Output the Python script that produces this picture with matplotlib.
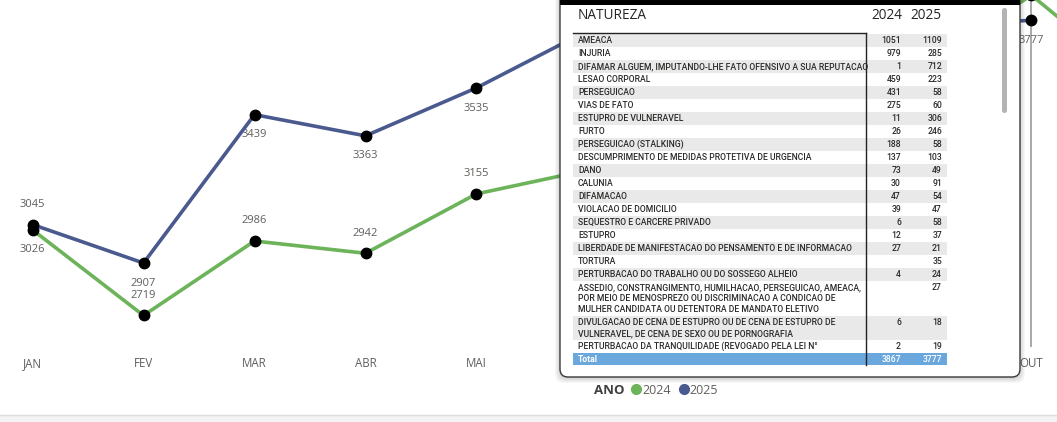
import matplotlib.pyplot as plt
from matplotlib.patches import Rectangle, FancyBboxPatch
from matplotlib.lines import Line2D

# dados do grafico (JUN-SET ficam atras do tooltip, estimados)
meses = ['JAN', 'FEV', 'MAR', 'ABR', 'MAI', 'JUN', 'JUL', 'AGO', 'SET', 'OUT', 'NOV']
v2024 = [3026, 2719, 2986, 2942, 3155, 3240, 3400, 3520, 3610, 3867, 3540]
v2025 = [3045, 2907, 3439, 3363, 3535, 3740, 3680, 3720, 3760, 3777]

# tabela do tooltip (mes OUT)
naturezas = [
    'AMEACA',
    'INJURIA',
    'DIFAMAR ALGUEM, IMPUTANDO-LHE FATO OFENSIVO A SUA REPUTACAO',
    'LESAO CORPORAL',
    'PERSEGUICAO',
    'VIAS DE FATO',
    'ESTUPRO DE VULNERAVEL',
    'FURTO',
    'PERSEGUICAO (STALKING)',
    'DESCUMPRIMENTO DE MEDIDAS PROTETIVA DE URGENCIA',
    'DANO',
    'CALUNIA',
    'DIFAMACAO',
    'VIOLACAO DE DOMICILIO',
    'SEQUESTRO E CARCERE PRIVADO',
    'ESTUPRO',
    'LIBERDADE DE MANIFESTACAO DO PENSAMENTO E DE INFORMACAO',
    'TORTURA',
    'PERTURBACAO DO TRABALHO OU DO SOSSEGO ALHEIO',
    'ASSEDIO, CONSTRANGIMENTO, HUMILHACAO, PERSEGUICAO, AMEACA,\nPOR MEIO DE MENOSPREZO OU DISCRIMINACAO A CONDICAO DE\nMULHER CANDIDATA OU DETENTORA DE MANDATO ELETIVO',
    'DIVULGACAO DE CENA DE ESTUPRO OU DE CENA DE ESTUPRO DE\nVULNERAVEL, DE CENA DE SEXO OU DE PORNOGRAFIA',
    'PERTURBACAO DA TRANQUILIDADE (REVOGADO PELA LEI N°',
]
n2024 = [1051, 979, 1, 459, 431, 275, 11, 26, 188, 137, 73, 30, 47, 39, 6, 12, 27, None, 4, None, 6, 2]
n2025 = [1109, 285, 712, 223, 58, 60, 306, 246, 58, 103, 49, 91, 54, 47, 58, 37, 21, 35, 24, 27, 18, 19]
totais = [3867, 3777]

verde = '#6cb35a'
azul = '#4a5a8e'
cinza = '#605e5c'
W, H = 1057, 422

fig = plt.figure(figsize=(W/100, H/100), dpi=100)

# grafico de linhas
ax = fig.add_axes([0, (H-347)/H, 1, 347/H])
ax.axvline(9, color='#a8a8a8', lw=1.4, zorder=1)
ax.plot(range(len(v2024)), v2024, color=verde, lw=2.6, marker='o', ms=7.5,
        mfc='black', mec='black', zorder=3)
ax.plot(range(len(v2025)), v2025, color=azul, lw=2.6, marker='o', ms=7.5,
        mfc='black', mec='black', zorder=4)

ax.set_xticks(range(len(meses)))
ax.set_xticklabels(meses, family='Open Sans')
ax.set_xlim(-0.293, 9.23)
ax.set_ylim(2606, 3850)

for i, v in enumerate(v2024):
    dy = -14.5 if i == 0 else 14.5
    ax.annotate(str(v), (i, v), xytext=(0, dy), textcoords='offset points',
                ha='center', va='center', fontsize=8, color=cinza, family='Open Sans')
for i, v in enumerate(v2025):
    dy = 14.5 if i == 0 else -14.5
    ax.annotate(str(v), (i, v), xytext=(0, dy), textcoords='offset points',
                ha='center', va='center', fontsize=8, color=cinza, family='Open Sans')

ax.tick_params(axis='x', length=0, pad=7, labelsize=8.3, labelcolor=cinza)
ax.set_yticks([])
for s in ax.spines.values():
    s.set_visible(False)

# legenda
fig.text(594/W, 1-390/H, 'ANO', fontweight='bold', fontsize=9.5, color='#404040',
         va='center', family='Open Sans')
hs = [Line2D([], [], ls='', marker='o', ms=7, color=verde),
      Line2D([], [], ls='', marker='o', ms=7, color=azul)]
fig.legend(hs, ['2024', '2025'], loc='center left', bbox_to_anchor=(630/W, 1-390/H),
           ncol=2, frameon=False, handletextpad=0.0, columnspacing=0.5, handlelength=1.0,
           borderpad=0, borderaxespad=0, prop={'family': 'Open Sans', 'size': 9},
           labelcolor=cinza)

# tooltip por cima
tt = fig.add_axes([0, 0, 1, 1], zorder=10)
tt.set_xlim(0, W)
tt.set_ylim(H, 0)
tt.axis('off')
tt.patch.set_alpha(0)

tt.add_patch(Rectangle((0, 415), W, 7, fc='#f3f3f3', ec='none'))
tt.plot([0, W], [415, 415], color='#dcdcdc', lw=1)

for k in range(6):
    tt.add_patch(FancyBboxPatch((560-k, -10), 460+2*k, 387+k+1,
                                boxstyle='round,pad=0,rounding_size=9',
                                fc='black', ec='none', alpha=0.03))
tt.add_patch(FancyBboxPatch((560, -10), 460, 387, boxstyle='round,pad=0,rounding_size=8',
                            fc='white', ec='#3a3a3a', lw=1))
tt.add_patch(Rectangle((560, -1), 460, 6, fc='black', ec='none'))
tt.add_patch(FancyBboxPatch((1002, 8), 5, 105, boxstyle='round,pad=0,rounding_size=2.5',
                            fc='#b3b3b3', ec='none'))

fh = {'family': 'Open Sans', 'size': 9.8, 'color': '#252423'}
tt.text(578, 15.5, 'NATUREZA', va='center', **fh)
tt.text(902, 15.5, '2024', va='center', ha='right', **fh)
tt.text(941, 15.5, '2025', va='center', ha='right', **fh)

ft = {'family': 'Roboto', 'size': 6.2, 'color': '#2b2a29', 'weight': 'medium'}
y = 33.5
for i, (nome, a, b) in enumerate(zip(naturezas, n2024, n2025)):
    linhas = nome.split('\n')
    h = 13 + 11*(len(linhas)-1)
    if i % 2 == 0:
        tt.add_patch(Rectangle((573, y), 374, h, fc='#e9e9e9', ec='none'))
    for k, ln in enumerate(linhas):
        tt.text(578, y+7+11*k, ln, va='center', **ft)
    if a is not None:
        tt.text(901, y+7, str(a), va='center', ha='right', **ft)
    if b is not None:
        tt.text(942, y+7, str(b), va='center', ha='right', **ft)
    y += h

tt.add_patch(Rectangle((573, y), 374, 12.5, fc='#6aa7dc', ec='none'))
ftot = dict(ft, color='white')
tt.text(578, y+6.5, 'Total', va='center', **dict(ftot, weight='bold'))
tt.text(901, y+6.5, str(totais[0]), va='center', ha='right', **ftot)
tt.text(942, y+6.5, str(totais[1]), va='center', ha='right', **ftot)
tt.plot([573, 866], [33, 33], color='#222222', lw=1)
tt.plot([866, 866], [33, y+12.5], color='#222222', lw=1)

fig.savefig('out.png', dpi=100)
